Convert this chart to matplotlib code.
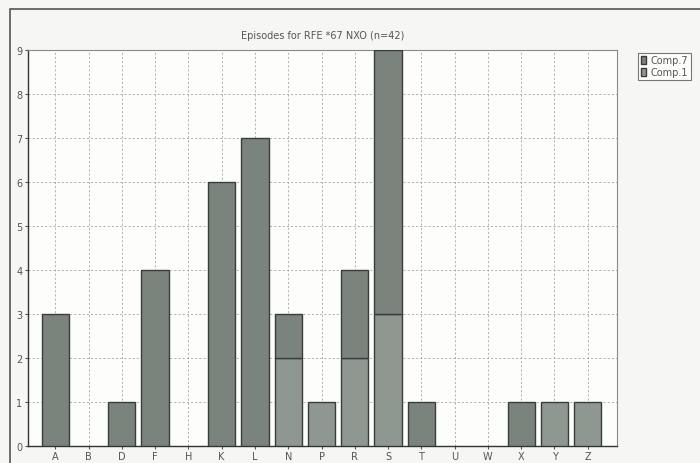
import matplotlib
matplotlib.use("Agg")
import matplotlib.pyplot as plt
import matplotlib.patches as mpatches
import numpy as np

cats = ["A", "B", "D", "F", "H", "K", "L", "N", "P", "R", "S", "T", "U", "W", "X", "Y", "Z"]
comp1 = [0, 0, 0, 0, 0, 0, 0, 2, 1, 2, 3, 0, 0, 0, 0, 1, 1]
comp7 = [3, 0, 1, 4, 0, 6, 7, 1, 0, 2, 6, 1, 0, 0, 1, 0, 0]

c7_color = "#7b837d"
c1_color = "#8f9791"
edge = "#3a3d3b"
txt = "#555555"

fig = plt.figure(figsize=(7, 4.64), dpi=100)
fig.patch.set_facecolor("#f6f6f4")
ax = fig.add_axes([0.04, 0.037, 0.841, 0.853])
ax.set_facecolor("#fdfdfc")

x = np.arange(len(cats))
c1 = np.array(comp1)
c7 = np.array(comp7)
m1 = c1 > 0
m7 = c7 > 0
ax.bar(x[m1], c1[m1], width=0.82, color=c1_color, edgecolor=edge, linewidth=1.0, zorder=3)
ax.bar(x[m7], c7[m7], width=0.82, bottom=c1[m7], color=c7_color, edgecolor=edge, linewidth=1.0, zorder=3)

ax.set_xlim(-0.82, len(cats) - 1 + 0.87)
ax.set_ylim(0, 9)
ax.set_xticks(x)
ax.set_xticklabels(cats)
ax.set_yticks(range(0, 10))
ax.tick_params(axis="both", labelsize=7, colors=txt, length=2, pad=2)
ax.grid(True, linestyle=(0, (2.5, 2.5)), color="#a5a5a5", linewidth=0.6, zorder=0)

for side in ["top", "right"]:
    ax.spines[side].set_color("#8a8a8a")
for side in ["left", "bottom"]:
    ax.spines[side].set_color("#333333")
    ax.spines[side].set_linewidth(1.0)

ax.set_title("Episodes for RFE *67 NXO (n=42)", fontsize=7, color=txt, pad=9)

h1 = mpatches.Patch(facecolor=c7_color, edgecolor=edge, label="Comp.7")
h2 = mpatches.Patch(facecolor=c1_color, edgecolor=edge, label="Comp.1")
leg = fig.legend(handles=[h1, h2], loc="upper left", bbox_to_anchor=(0.905, 0.895),
                 fontsize=7, frameon=True, fancybox=False, handlelength=0.5, handleheight=0.9,
                 handletextpad=0.4, borderpad=0.3, labelspacing=0.2, labelcolor=txt)
leg.get_frame().set_edgecolor("#555555")
leg.get_frame().set_linewidth(0.8)

# outer frame of the printed chart
fig.add_artist(mpatches.Rectangle((10 / 700, -0.01), 1.0, 1 - 10 / 464 + 0.01,
                                  transform=fig.transFigure, fill=False,
                                  edgecolor="#555555", linewidth=1.2))

fig.savefig("out.png", dpi=100, facecolor=fig.get_facecolor())
